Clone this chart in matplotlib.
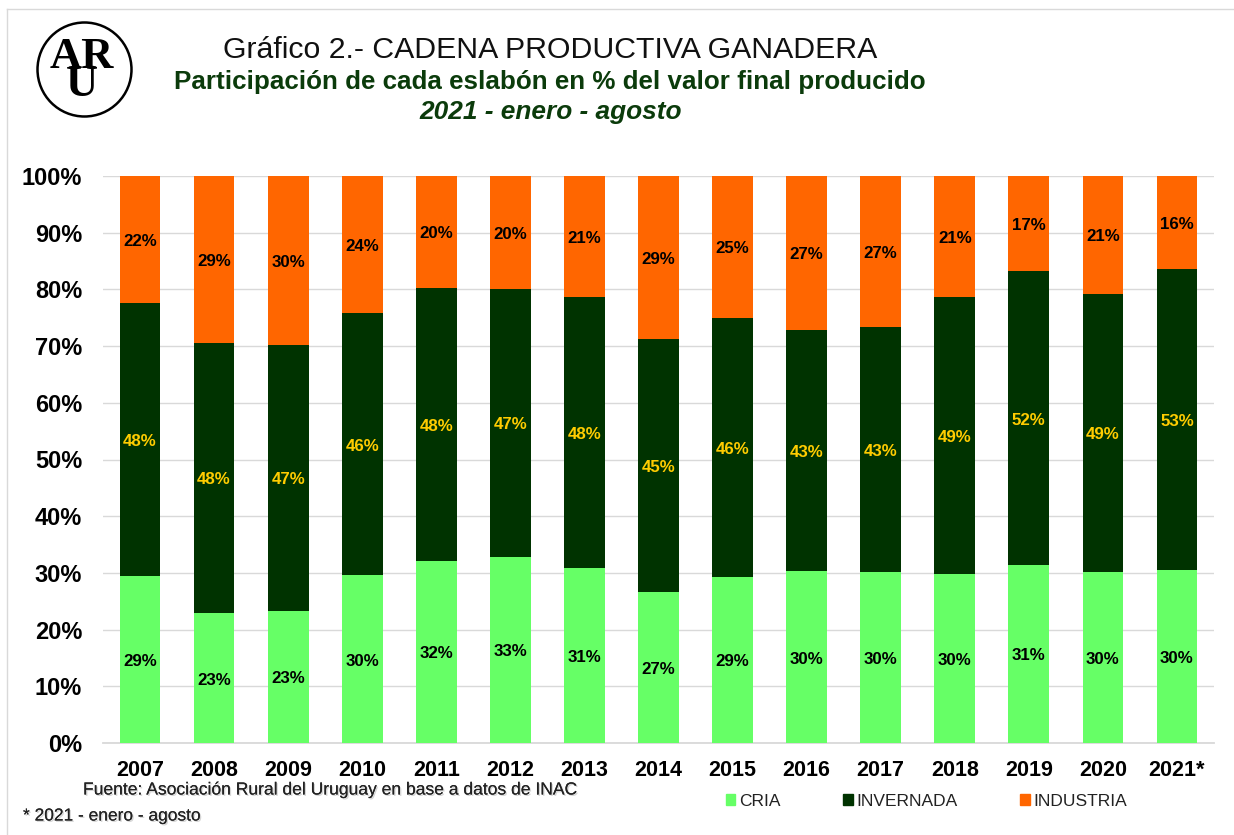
import matplotlib
matplotlib.use("Agg")
import matplotlib.pyplot as plt
import matplotlib.patheffects as pe
from matplotlib.patches import Circle, Patch
import numpy as np

plt.rcParams["font.family"] = ["Liberation Sans", "DejaVu Sans"]

years = ["2007", "2008", "2009", "2010", "2011", "2012", "2013", "2014",
         "2015", "2016", "2017", "2018", "2019", "2020", "2021*"]
cria = [29.4, 22.9, 23.3, 29.6, 32.1, 32.8, 30.9, 26.6, 29.3, 30.3, 30.2, 29.8, 31.4, 30.2, 30.5]
invernada = [48.2, 47.7, 46.9, 46.2, 48.2, 47.3, 47.8, 44.7, 45.7, 42.6, 43.2, 48.8, 51.8, 49.0, 53.1]
industria = [22.4, 29.4, 29.8, 24.2, 19.7, 19.9, 21.3, 28.7, 25.0, 27.1, 26.6, 21.4, 16.8, 20.8, 16.4]

W, H = 1234, 835
GREEN = "#66ff66"
DARK = "#003300"
ORANGE = "#ff6600"
GOLD = "#ffcc00"

fig = plt.figure(figsize=(W / 100, H / 100), dpi=100)


def px(x, y):
    """Pixel position (from top left) to figure fraction."""
    return x / W, 1 - y / H


# outer frame, only top and left show
fig.add_artist(plt.Line2D([7 / W, 7 / W], [0, 1 - 9 / H], color="#d9d9d9", lw=1))
fig.add_artist(plt.Line2D([7 / W, 1], [1 - 9 / H, 1 - 9 / H], color="#d9d9d9", lw=1))

ax = fig.add_axes([103 / W, 1 - 743 / H, (1214 - 103) / W, (743 - 176) / H])
x = np.arange(len(years))
bottoms = np.zeros(len(years))
for vals, col, txt in [(cria, GREEN, "black"), (invernada, DARK, GOLD), (industria, ORANGE, "black")]:
    bars = ax.bar(x, vals, 0.55, bottom=bottoms, color=col, zorder=3)
    ax.bar_label(bars, labels=[f"{round(v)}%" for v in vals], label_type="center", padding=-1.4,
                 color=txt, fontsize=12.2, fontweight="bold", zorder=4)
    bottoms = bottoms + np.array(vals)

ax.set_xlim(-0.5, len(years) - 0.5)
ax.set_ylim(0, 100)
ax.set_yticks(range(0, 101, 10))
ax.set_yticklabels([f"{v}%" for v in range(0, 101, 10)], fontsize=17, fontweight="bold")
ax.set_xticks(x)
ax.set_xticklabels(years, fontsize=15.5, fontweight="bold")
ax.tick_params(axis="both", length=0)
ax.tick_params(axis="x", pad=12)
ax.tick_params(axis="y", pad=15)
ax.grid(axis="y", color="#d9d9d9", lw=1, zorder=0)
for side in ["top", "right", "left"]:
    ax.spines[side].set_visible(False)
ax.spines["bottom"].set_color("#d9d9d9")
ax.spines["bottom"].set_linewidth(1.3)

# titles
t1 = px(550, 50)
fig.text(t1[0], t1[1], "Gráfico 2.- CADENA PRODUCTIVA GANADERA", ha="center", va="center",
         fontsize=21.8, color="#111111")
t2 = px(550, 82)
fig.text(t2[0], t2[1], "Participación de cada eslabón en % del valor final producido", ha="center",
         va="center", fontsize=18.7, fontweight="bold", color="#0b3b0b")
t3 = px(551, 112)
fig.text(t3[0], t3[1], "2021 - enero - agosto", ha="center", va="center", fontsize=18.9,
         fontweight="bold", fontstyle="italic", color="#0b3b0b")

# logo
logo = fig.add_axes([30 / W, 1 - 125 / H, 110 / W, 110 / H])
logo.set_xlim(30, 140)
logo.set_ylim(125, 15)
logo.axis("off")
logo.add_patch(Circle((84.5, 69.5), 47, fill=False, ec="black", lw=1.8))
logo.text(82, 71, "AR\nU", family="Liberation Serif", fontsize=32, fontweight="bold", ha="center",
          va="center", ma="center", linespacing=0.6)

# footnotes with the soft shadow they have in the original
shadow = [pe.withSimplePatchShadow(offset=(1, -1), shadow_rgbFace="#999999", alpha=0.4), pe.Normal()]
f1 = px(83, 790)
fig.text(f1[0], f1[1], "Fuente: Asociación Rural del Uruguay en base a datos de INAC", ha="left",
         va="center", fontsize=12.6, color="#222222", path_effects=shadow)
f2 = px(23, 816)
fig.text(f2[0], f2[1], "* 2021 - enero - agosto", ha="left", va="center", fontsize=12.5,
         color="#222222", path_effects=shadow)

# legend
handles = [Patch(color=GREEN, label="CRIA"), Patch(color=DARK, label="INVERNADA"),
           Patch(color=ORANGE, label="INDUSTRIA")]
leg_pos = px(710, 801)
fig.legend(handles=handles, loc="center left", bbox_to_anchor=leg_pos, ncol=3, frameon=False,
           fontsize=12.5, handlelength=0.55, handleheight=0.55, handletextpad=0.2,
           columnspacing=3.62, labelcolor="#222222")

fig.savefig("out.png", dpi=100)
